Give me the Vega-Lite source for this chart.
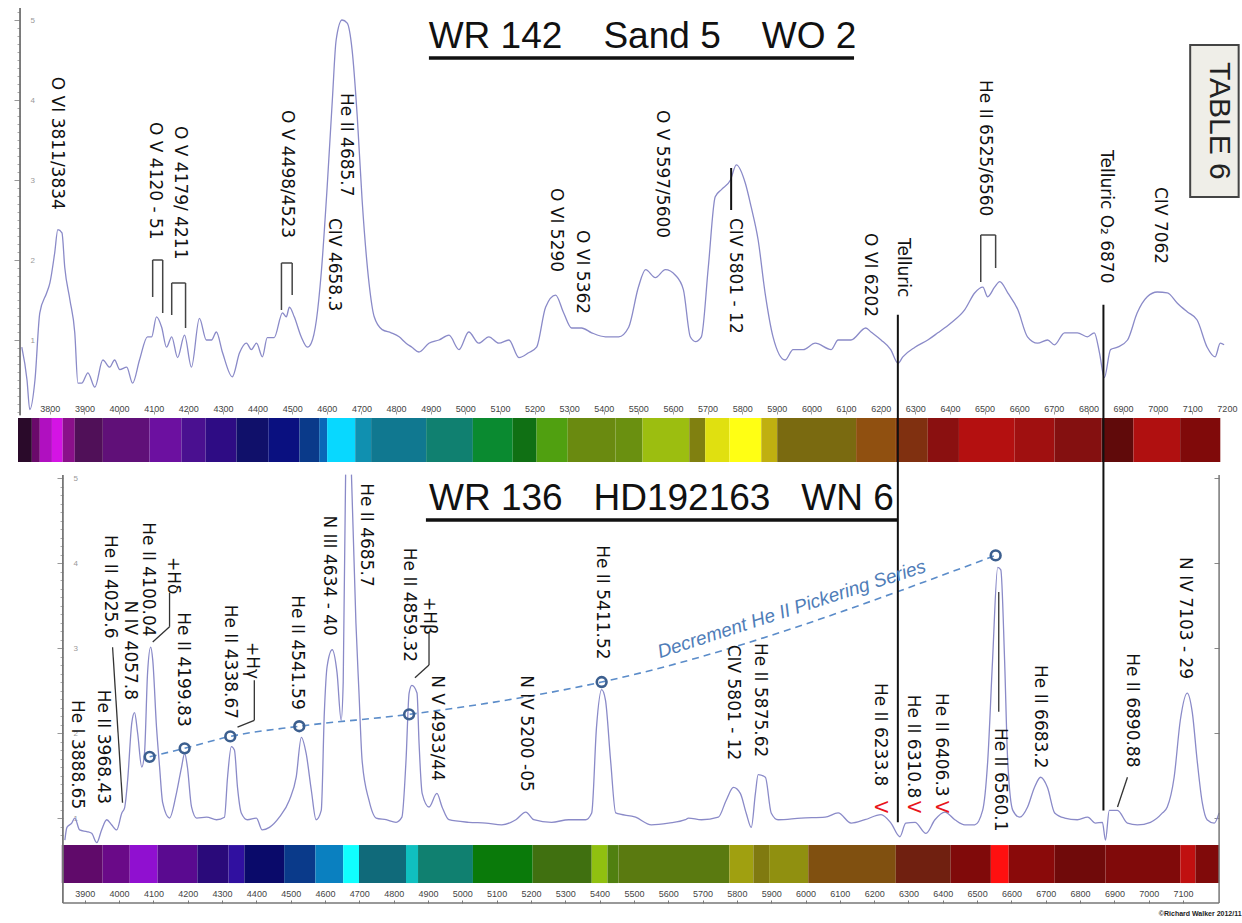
{
  "$schema": "https://vega.github.io/schema/vega-lite/v6.json",
  "width": 1242,
  "height": 923,
  "autosize": {"type": "fit", "contains": "padding"},
  "padding": 0,
  "background": "white",
  "config": {"view": {"stroke": null}, "font": "Liberation Sans"},
  "datasets": {
    "topSpec": [
      {"wl":3719,"v":0.91},{"wl":3734,"v":0.5},{"wl":3742,"v":0.13},{"wl":3757,"v":0.5},{"wl":3771,"v":1.34},{"wl":3791,"v":1.59},{"wl":3800,"v":1.71},{"wl":3814,"v":2.09},{"wl":3823,"v":2.38},{"wl":3835,"v":2.34},{"wl":3843,"v":1.91},{"wl":3858,"v":1.5},{"wl":3872,"v":1.09},{"wl":3881,"v":0.46},{"wl":3892,"v":0.46},{"wl":3910,"v":0.59},{"wl":3930,"v":0.41},{"wl":3953,"v":0.75},{"wl":3973,"v":0.66},{"wl":3987,"v":0.75},{"wl":4002,"v":0.63},{"wl":4022,"v":0.66},{"wl":4039,"v":0.46},{"wl":4059,"v":0.75},{"wl":4082,"v":1.04},{"wl":4094,"v":1.04},{"wl":4108,"v":1.29},{"wl":4123,"v":1.16},{"wl":4137,"v":0.91},{"wl":4152,"v":1.04},{"wl":4169,"v":0.78},{"wl":4189,"v":1.06},{"wl":4209,"v":0.66},{"wl":4232,"v":1.27},{"wl":4252,"v":1.0},{"wl":4267,"v":1.0},{"wl":4281,"v":1.1},{"wl":4299,"v":0.84},{"wl":4327,"v":0.54},{"wl":4348,"v":0.84},{"wl":4368,"v":0.96},{"wl":4382,"v":0.88},{"wl":4397,"v":0.96},{"wl":4414,"v":0.79},{"wl":4428,"v":1.03},{"wl":4448,"v":1.03},{"wl":4472,"v":1.34},{"wl":4483,"v":1.29},{"wl":4492,"v":1.41},{"wl":4506,"v":1.29},{"wl":4526,"v":1.04},{"wl":4544,"v":0.91},{"wl":4555,"v":0.96},{"wl":4570,"v":1.25},{"wl":4584,"v":1.84},{"wl":4601,"v":2.91},{"wl":4616,"v":4.0},{"wl":4627,"v":4.75},{"wl":4644,"v":5.0},{"wl":4659,"v":4.96},{"wl":4673,"v":4.63},{"wl":4688,"v":3.79},{"wl":4702,"v":2.75},{"wl":4722,"v":1.71},{"wl":4737,"v":1.29},{"wl":4760,"v":1.13},{"wl":4786,"v":1.09},{"wl":4809,"v":1.04},{"wl":4829,"v":0.96},{"wl":4846,"v":0.91},{"wl":4866,"v":0.85},{"wl":4895,"v":0.96},{"wl":4924,"v":1.0},{"wl":4953,"v":1.06},{"wl":4982,"v":0.88},{"wl":5010,"v":1.1},{"wl":5039,"v":0.96},{"wl":5068,"v":1.04},{"wl":5097,"v":0.96},{"wl":5126,"v":1.0},{"wl":5155,"v":0.78},{"wl":5183,"v":0.84},{"wl":5206,"v":0.91},{"wl":5232,"v":1.41},{"wl":5261,"v":1.56},{"wl":5284,"v":1.34},{"wl":5307,"v":1.15},{"wl":5336,"v":1.15},{"wl":5365,"v":1.09},{"wl":5405,"v":1.04},{"wl":5443,"v":1.04},{"wl":5472,"v":1.16},{"wl":5500,"v":1.66},{"wl":5521,"v":1.88},{"wl":5549,"v":1.78},{"wl":5578,"v":1.88},{"wl":5607,"v":1.81},{"wl":5630,"v":1.63},{"wl":5650,"v":1.04},{"wl":5665,"v":0.98},{"wl":5682,"v":1.04},{"wl":5702,"v":1.91},{"wl":5722,"v":2.79},{"wl":5740,"v":2.88},{"wl":5766,"v":3.0},{"wl":5783,"v":3.19},{"wl":5809,"v":2.96},{"wl":5826,"v":2.66},{"wl":5846,"v":2.25},{"wl":5866,"v":1.59},{"wl":5889,"v":1.04},{"wl":5924,"v":0.75},{"wl":5947,"v":0.88},{"wl":5976,"v":0.88},{"wl":6011,"v":0.96},{"wl":6057,"v":0.88},{"wl":6077,"v":1.0},{"wl":6114,"v":1.0},{"wl":6157,"v":1.15},{"wl":6172,"v":1.1},{"wl":6201,"v":1.0},{"wl":6229,"v":0.88},{"wl":6250,"v":0.71},{"wl":6264,"v":0.79},{"wl":6299,"v":0.91},{"wl":6336,"v":1.0},{"wl":6365,"v":1.09},{"wl":6402,"v":1.21},{"wl":6443,"v":1.38},{"wl":6472,"v":1.59},{"wl":6495,"v":1.66},{"wl":6509,"v":1.54},{"wl":6529,"v":1.66},{"wl":6544,"v":1.73},{"wl":6567,"v":1.59},{"wl":6596,"v":1.38},{"wl":6624,"v":1.04},{"wl":6653,"v":0.96},{"wl":6682,"v":1.0},{"wl":6702,"v":0.94},{"wl":6731,"v":1.09},{"wl":6768,"v":1.09},{"wl":6797,"v":1.04},{"wl":6817,"v":1.09},{"wl":6832,"v":0.84},{"wl":6846,"v":0.53},{"wl":6864,"v":0.88},{"wl":6884,"v":0.91},{"wl":6913,"v":1.0},{"wl":6941,"v":1.34},{"wl":6970,"v":1.54},{"wl":6999,"v":1.6},{"wl":7028,"v":1.59},{"wl":7057,"v":1.46},{"wl":7086,"v":1.35},{"wl":7114,"v":1.25},{"wl":7143,"v":0.91},{"wl":7166,"v":0.79},{"wl":7181,"v":0.96},{"wl":7192,"v":0.94}
    ],
    "botSpec": [
      {"wl":3842,"v":0.74,"seg":"a"},{"wl":3848,"v":0.89,"seg":"a"},{"wl":3862,"v":0.94,"seg":"a"},{"wl":3871,"v":1.0,"seg":"a"},{"wl":3885,"v":0.86,"seg":"a"},{"wl":3906,"v":0.84,"seg":"a"},{"wl":3920,"v":0.82,"seg":"a"},{"wl":3935,"v":0.71,"seg":"a"},{"wl":3949,"v":0.86,"seg":"a"},{"wl":3964,"v":0.98,"seg":"a"},{"wl":3978,"v":0.92,"seg":"a"},{"wl":3993,"v":0.86,"seg":"a"},{"wl":4008,"v":1.06,"seg":"a"},{"wl":4016,"v":1.12,"seg":"a"},{"wl":4025,"v":1.45,"seg":"a"},{"wl":4037,"v":2.12,"seg":"a"},{"wl":4045,"v":2.24,"seg":"a"},{"wl":4054,"v":2.0,"seg":"a"},{"wl":4066,"v":1.6,"seg":"a"},{"wl":4074,"v":1.76,"seg":"a"},{"wl":4083,"v":2.71,"seg":"a"},{"wl":4092,"v":3.01,"seg":"a"},{"wl":4098,"v":2.86,"seg":"a"},{"wl":4109,"v":2.07,"seg":"a"},{"wl":4118,"v":1.6,"seg":"a"},{"wl":4127,"v":1.18,"seg":"a"},{"wl":4147,"v":1.0,"seg":"a"},{"wl":4167,"v":1.29,"seg":"a"},{"wl":4182,"v":1.6,"seg":"a"},{"wl":4191,"v":1.76,"seg":"a"},{"wl":4199,"v":1.6,"seg":"a"},{"wl":4211,"v":1.13,"seg":"a"},{"wl":4226,"v":1.0,"seg":"a"},{"wl":4255,"v":1.01,"seg":"a"},{"wl":4284,"v":0.98,"seg":"a"},{"wl":4307,"v":1.01,"seg":"a"},{"wl":4316,"v":1.48,"seg":"a"},{"wl":4327,"v":1.84,"seg":"a"},{"wl":4336,"v":1.8,"seg":"a"},{"wl":4345,"v":1.36,"seg":"a"},{"wl":4356,"v":1.06,"seg":"a"},{"wl":4374,"v":0.98,"seg":"a"},{"wl":4400,"v":1.0,"seg":"a"},{"wl":4417,"v":0.86,"seg":"a"},{"wl":4438,"v":0.89,"seg":"a"},{"wl":4467,"v":1.01,"seg":"a"},{"wl":4496,"v":1.21,"seg":"a"},{"wl":4516,"v":1.48,"seg":"a"},{"wl":4531,"v":1.95,"seg":"a"},{"wl":4545,"v":1.76,"seg":"a"},{"wl":4560,"v":1.33,"seg":"a"},{"wl":4574,"v":0.98,"seg":"a"},{"wl":4589,"v":1.09,"seg":"a"},{"wl":4598,"v":2.24,"seg":"a"},{"wl":4606,"v":2.78,"seg":"a"},{"wl":4621,"v":2.98,"seg":"a"},{"wl":4635,"v":2.71,"seg":"a"},{"wl":4647,"v":2.15,"seg":"a"},{"wl":4653,"v":2.6,"seg":"a"},{"wl":4660,"v":5.04,"seg":"a"},
      {"wl":4677,"v":5.04,"seg":"b"},{"wl":4690,"v":3.3,"seg":"b"},{"wl":4699,"v":2.47,"seg":"b"},{"wl":4708,"v":1.68,"seg":"b"},{"wl":4728,"v":1.21,"seg":"b"},{"wl":4749,"v":1.0,"seg":"b"},{"wl":4778,"v":0.98,"seg":"b"},{"wl":4807,"v":0.95,"seg":"b"},{"wl":4824,"v":1.01,"seg":"b"},{"wl":4836,"v":1.68,"seg":"b"},{"wl":4845,"v":2.47,"seg":"b"},{"wl":4853,"v":2.56,"seg":"b"},{"wl":4868,"v":2.47,"seg":"b"},{"wl":4874,"v":1.88,"seg":"b"},{"wl":4883,"v":1.29,"seg":"b"},{"wl":4903,"v":1.13,"seg":"b"},{"wl":4926,"v":1.29,"seg":"b"},{"wl":4941,"v":1.13,"seg":"b"},{"wl":4961,"v":0.98,"seg":"b"},{"wl":5019,"v":0.95,"seg":"b"},{"wl":5069,"v":0.94,"seg":"b"},{"wl":5115,"v":0.92,"seg":"b"},{"wl":5156,"v":0.98,"seg":"b"},{"wl":5185,"v":1.07,"seg":"b"},{"wl":5208,"v":0.98,"seg":"b"},{"wl":5260,"v":0.95,"seg":"b"},{"wl":5310,"v":0.98,"seg":"b"},{"wl":5359,"v":0.98,"seg":"b"},{"wl":5377,"v":1.06,"seg":"b"},{"wl":5391,"v":2.07,"seg":"b"},{"wl":5406,"v":2.51,"seg":"b"},{"wl":5417,"v":2.39,"seg":"b"},{"wl":5432,"v":1.68,"seg":"b"},{"wl":5447,"v":1.06,"seg":"b"},{"wl":5505,"v":1.01,"seg":"b"},{"wl":5551,"v":0.92,"seg":"b"},{"wl":5601,"v":0.94,"seg":"b"},{"wl":5650,"v":0.98,"seg":"b"},{"wl":5659,"v":1.0,"seg":"b"},{"wl":5697,"v":0.98,"seg":"b"},{"wl":5746,"v":1.01,"seg":"b"},{"wl":5769,"v":1.21,"seg":"b"},{"wl":5790,"v":1.36,"seg":"b"},{"wl":5810,"v":1.29,"seg":"b"},{"wl":5827,"v":1.06,"seg":"b"},{"wl":5842,"v":0.89,"seg":"b"},{"wl":5854,"v":1.29,"seg":"b"},{"wl":5862,"v":1.51,"seg":"b"},{"wl":5883,"v":1.48,"seg":"b"},{"wl":5900,"v":1.06,"seg":"b"},{"wl":5920,"v":0.98,"seg":"b"},{"wl":5987,"v":1.0,"seg":"b"},{"wl":6057,"v":1.01,"seg":"b"},{"wl":6095,"v":1.06,"seg":"b"},{"wl":6133,"v":0.94,"seg":"b"},{"wl":6173,"v":0.98,"seg":"b"},{"wl":6220,"v":1.04,"seg":"b"},{"wl":6249,"v":0.94,"seg":"b"},{"wl":6275,"v":0.78,"seg":"b"},{"wl":6292,"v":0.94,"seg":"b"},{"wl":6319,"v":0.95,"seg":"b"},{"wl":6351,"v":0.82,"seg":"b"},{"wl":6377,"v":0.98,"seg":"b"},{"wl":6406,"v":1.07,"seg":"b"},{"wl":6435,"v":0.98,"seg":"b"},{"wl":6464,"v":0.92,"seg":"b"},{"wl":6493,"v":0.92,"seg":"b"},{"wl":6516,"v":1.09,"seg":"b"},{"wl":6531,"v":1.68,"seg":"b"},{"wl":6545,"v":2.86,"seg":"b"},{"wl":6560,"v":3.95,"seg":"b"},{"wl":6569,"v":3.92,"seg":"b"},{"wl":6580,"v":2.86,"seg":"b"},{"wl":6589,"v":1.68,"seg":"b"},{"wl":6604,"v":1.09,"seg":"b"},{"wl":6624,"v":1.01,"seg":"b"},{"wl":6647,"v":1.13,"seg":"b"},{"wl":6667,"v":1.36,"seg":"b"},{"wl":6685,"v":1.48,"seg":"b"},{"wl":6705,"v":1.36,"seg":"b"},{"wl":6726,"v":1.06,"seg":"b"},{"wl":6755,"v":1.0,"seg":"b"},{"wl":6792,"v":0.98,"seg":"b"},{"wl":6822,"v":1.01,"seg":"b"},{"wl":6845,"v":0.94,"seg":"b"},{"wl":6865,"v":0.95,"seg":"b"},{"wl":6874,"v":0.74,"seg":"b"},{"wl":6885,"v":1.09,"seg":"b"},{"wl":6909,"v":1.09,"seg":"b"},{"wl":6938,"v":0.94,"seg":"b"},{"wl":6967,"v":0.92,"seg":"b"},{"wl":7005,"v":0.95,"seg":"b"},{"wl":7040,"v":1.06,"seg":"b"},{"wl":7054,"v":1.13,"seg":"b"},{"wl":7074,"v":1.48,"seg":"b"},{"wl":7092,"v":2.15,"seg":"b"},{"wl":7112,"v":2.47,"seg":"b"},{"wl":7127,"v":2.24,"seg":"b"},{"wl":7141,"v":1.68,"seg":"b"},{"wl":7156,"v":1.18,"seg":"b"},{"wl":7170,"v":0.98,"seg":"b"},{"wl":7191,"v":0.94,"seg":"b"},{"wl":7205,"v":1.06,"seg":"b"}
    ],
    "topBar": [
      {"wl":3708,"wl2":3748,"rgb":"#2a0a2a"},{"wl":3748,"wl2":3771,"rgb":"#6a0a6a"},{"wl":3771,"wl2":3806,"rgb":"#b010c0"},{"wl":3806,"wl2":3837,"rgb":"#d414e4"},{"wl":3837,"wl2":3872,"rgb":"#8a108a"},{"wl":3872,"wl2":3953,"rgb":"#501058"},{"wl":3953,"wl2":4088,"rgb":"#601078"},{"wl":4088,"wl2":4180,"rgb":"#6c10a0"},{"wl":4180,"wl2":4250,"rgb":"#4a1090"},{"wl":4250,"wl2":4339,"rgb":"#2e0c84"},{"wl":4339,"wl2":4431,"rgb":"#10106a"},{"wl":4431,"wl2":4521,"rgb":"#0a1080"},{"wl":4521,"wl2":4578,"rgb":"#0a3a8a"},{"wl":4578,"wl2":4601,"rgb":"#0a68b8"},{"wl":4601,"wl2":4682,"rgb":"#08d8ff"},{"wl":4682,"wl2":4728,"rgb":"#1090b0"},{"wl":4728,"wl2":4887,"rgb":"#107890"},{"wl":4887,"wl2":5022,"rgb":"#108070"},{"wl":5022,"wl2":5137,"rgb":"#0a8a30"},{"wl":5137,"wl2":5206,"rgb":"#107014"},{"wl":5206,"wl2":5296,"rgb":"#50a010"},{"wl":5296,"wl2":5434,"rgb":"#6a8a10"},{"wl":5434,"wl2":5512,"rgb":"#6a9010"},{"wl":5512,"wl2":5647,"rgb":"#9cbe10"},{"wl":5647,"wl2":5693,"rgb":"#808010"},{"wl":5693,"wl2":5763,"rgb":"#e0e010"},{"wl":5763,"wl2":5855,"rgb":"#ffff14"},{"wl":5855,"wl2":5901,"rgb":"#c0b010"},{"wl":5901,"wl2":6129,"rgb":"#7a6a10"},{"wl":6129,"wl2":6244,"rgb":"#905010"},{"wl":6244,"wl2":6336,"rgb":"#803010"},{"wl":6336,"wl2":6426,"rgb":"#8a1010"},{"wl":6426,"wl2":6587,"rgb":"#b41010"},{"wl":6587,"wl2":6702,"rgb":"#a01010"},{"wl":6702,"wl2":6838,"rgb":"#841010"},{"wl":6838,"wl2":6930,"rgb":"#600a0a"},{"wl":6930,"wl2":7065,"rgb":"#b01010"},{"wl":7065,"wl2":7181,"rgb":"#800a0a"}
    ],
    "botBar": [
      {"wl":3833,"wl2":3952,"rgb":"#600a6a"},{"wl":3952,"wl2":4031,"rgb":"#6a0a88"},{"wl":4031,"wl2":4112,"rgb":"#9010d0"},{"wl":4112,"wl2":4228,"rgb":"#5a0a90"},{"wl":4228,"wl2":4319,"rgb":"#2a0a7a"},{"wl":4319,"wl2":4365,"rgb":"#3010a0"},{"wl":4365,"wl2":4481,"rgb":"#0a0a6a"},{"wl":4481,"wl2":4572,"rgb":"#0a3a8a"},{"wl":4572,"wl2":4653,"rgb":"#0a80c0"},{"wl":4653,"wl2":4699,"rgb":"#10ffff"},{"wl":4699,"wl2":4836,"rgb":"#106a7a"},{"wl":4836,"wl2":4871,"rgb":"#10c0c0"},{"wl":4871,"wl2":5031,"rgb":"#108070"},{"wl":5031,"wl2":5205,"rgb":"#0a7a0a"},{"wl":5205,"wl2":5377,"rgb":"#407010"},{"wl":5377,"wl2":5423,"rgb":"#90c010"},{"wl":5423,"wl2":5455,"rgb":"#508010"},{"wl":5455,"wl2":5778,"rgb":"#5a7a10"},{"wl":5778,"wl2":5848,"rgb":"#a0a010"},{"wl":5848,"wl2":5894,"rgb":"#807a10"},{"wl":5894,"wl2":6008,"rgb":"#909010"},{"wl":6008,"wl2":6263,"rgb":"#805010"},{"wl":6263,"wl2":6423,"rgb":"#702010"},{"wl":6423,"wl2":6540,"rgb":"#800a0a"},{"wl":6540,"wl2":6592,"rgb":"#ff1010"},{"wl":6592,"wl2":6726,"rgb":"#8a0a0a"},{"wl":6726,"wl2":6874,"rgb":"#700a0a"},{"wl":6874,"wl2":7092,"rgb":"#800a0a"},{"wl":7092,"wl2":7136,"rgb":"#c01010"},{"wl":7136,"wl2":7205,"rgb":"#800a0a"}
    ],
    "topLabels": [
      {"wl":3820,"v":4.29,"label":"O VI 3811/3834"},
      {"wl":4103,"v":3.725,"label":"O V 4120 - 51"},
      {"wl":4175,"v":3.675,"label":"O V 4179/ 4211"},
      {"wl":4486,"v":3.875,"label":"O V 4498/4523"},
      {"wl":4656,"v":4.0875,"label":"He II 4685.7"},
      {"wl":4621,"v":2.525,"label":"CIV 4658.3"},
      {"wl":5261,"v":2.9,"label":"O VI 5290"},
      {"wl":5336,"v":2.375,"label":"O VI 5362"},
      {"wl":5567,"v":3.875,"label":"O V 5597/5600"},
      {"wl":5780,"v":2.525,"label":"CIV 5801 - 12"},
      {"wl":6169,"v":2.3375,"label":"O VI 6202"},
      {"wl":6264,"v":2.275,"label":"Telluric"},
      {"wl":6500,"v":4.25,"label":"He II 6525/6560"},
      {"wl":6852,"v":3.375,"label":"Telluric O₂  6870"},
      {"wl":7008,"v":2.9125,"label":"CIV 7062"}
    ],
    "botLabels": [
      {"wl":3877,"v":2.39,"label":"He I 3888.65"},
      {"wl":3952,"v":2.51,"label":"He II 3968.43"},
      {"wl":3973,"v":4.33,"label":"He II 4025.6"},
      {"wl":4031,"v":3.56,"label":"N IV 4057.8"},
      {"wl":4083,"v":4.48,"label":"He II 4100.04"},
      {"wl":4156,"v":4.07,"label":"+Hδ"},
      {"wl":4185,"v":3.42,"label":"He II 4199.83"},
      {"wl":4322,"v":3.51,"label":"He II 4338.67"},
      {"wl":4388,"v":3.07,"label":"+Hγ"},
      {"wl":4519,"v":3.62,"label":"He II 4541.59"},
      {"wl":4612,"v":4.56,"label":"N III 4634 - 40"},
      {"wl":4720,"v":4.94,"label":"He II 4685.7"},
      {"wl":4845,"v":4.18,"label":"He II 4859.32"},
      {"wl":4903,"v":3.6,"label":"+Hβ"},
      {"wl":4926,"v":2.68,"label":"N V 4933/44"},
      {"wl":5185,"v":2.68,"label":"N IV 5200 -05"},
      {"wl":5406,"v":4.21,"label":"He II 5411.52"},
      {"wl":5790,"v":3.04,"label":"CIV  5801 - 12"},
      {"wl":5868,"v":3.06,"label":"He II 5875.62"},
      {"wl":6217,"v":2.59,"label":"He II  6233.8"},
      {"wl":6313,"v":2.45,"label":"He II 6310.8"},
      {"wl":6394,"v":2.47,"label":"He II 6406.3"},
      {"wl":6566,"v":2.06,"label":"He II  6560.1"},
      {"wl":6682,"v":2.8,"label":"He II 6683.2"},
      {"wl":6952,"v":2.94,"label":"He II 6890.88"},
      {"wl":7106,"v":4.07,"label":"N IV 7103 - 29"}
    ],
    "redV": [
      {"wl":6217,"v":1.13,"label":"V"},
      {"wl":6313,"v":1.13,"label":"V"},
      {"wl":6394,"v":1.13,"label":"V"}
    ],
    "topSegs": [
      {"wl":4097,"v":1.5375,"wl2":4097,"v2":2.0,"kind":"br"},
      {"wl":4097,"v":2.0,"wl2":4126,"v2":2.0,"kind":"br"},
      {"wl":4126,"v":2.0,"wl2":4126,"v2":1.3375,"kind":"br"},
      {"wl":4152,"v":1.3125,"wl2":4152,"v2":1.7125,"kind":"br"},
      {"wl":4152,"v":1.7125,"wl2":4192,"v2":1.7125,"kind":"br"},
      {"wl":4192,"v":1.7125,"wl2":4192,"v2":1.15,"kind":"br"},
      {"wl":4469,"v":1.375,"wl2":4469,"v2":1.9625,"kind":"br"},
      {"wl":4469,"v":1.9625,"wl2":4500,"v2":1.9625,"kind":"br"},
      {"wl":4500,"v":1.9625,"wl2":4500,"v2":1.5625,"kind":"br"},
      {"wl":6489,"v":1.725,"wl2":6489,"v2":2.3125,"kind":"br"},
      {"wl":6489,"v":2.3125,"wl2":6532,"v2":2.3125,"kind":"br"},
      {"wl":6532,"v":2.3125,"wl2":6532,"v2":1.9,"kind":"br"},
      {"wl":5768,"v":3.15,"wl2":5768,"v2":2.625,"kind":"lead"},
      {"wl":4895,"v":4.525,"wl2":6123,"v2":4.525,"kind":"ul"}
    ],
    "topAxisLine": [{"wl":3714,"v":5.15,"v2":0.06}],
    "botSegs": [
      {"wl":6269,"v":6.92,"wl2":6269,"v2":0.95,"kind":"tel"},
      {"wl":6868,"v":7.04,"wl2":6868,"v2":1.09,"kind":"tel"},
      {"wl":4894,"v":4.506,"wl2":6269,"v2":4.506,"kind":"ul"},
      {"wl":3981,"v":3.01,"wl2":4010,"v2":1.18,"kind":"lead"},
      {"wl":4147,"v":3.65,"wl2":4147,"v2":3.25,"kind":"lead"},
      {"wl":4147,"v":3.25,"wl2":4098,"v2":3.07,"kind":"lead"},
      {"wl":4394,"v":2.62,"wl2":4394,"v2":2.15,"kind":"lead"},
      {"wl":4394,"v":2.15,"wl2":4345,"v2":2.07,"kind":"lead"},
      {"wl":4903,"v":3.18,"wl2":4903,"v2":2.8,"kind":"lead"},
      {"wl":4903,"v":2.8,"wl2":4862,"v2":2.65,"kind":"lead"},
      {"wl":6563,"v":3.66,"wl2":6563,"v2":2.25,"kind":"lead"},
      {"wl":6938,"v":1.48,"wl2":6909,"v2":1.13,"kind":"lead"},
      {"wl":3836,"v":0.0,"wl2":7205,"v2":0.0,"kind":"ax"},
      {"wl":7205,"v":0.682,"wl2":7205,"v2":0.0,"kind":"ax"}
    ],
    "leftAxisB": [{"wl":3836,"v":5.035,"v2":0.0}],
    "pick": [
      {"wl":4089,"v":1.72},{"wl":4191,"v":1.82},{"wl":4324,"v":1.96},{"wl":4525,"v":2.08},{"wl":4845,"v":2.22},{"wl":5406,"v":2.6},{"wl":6554,"v":4.09}
    ],
    "titleTop": [{"wl":5512,"v":4.65,"label":"WR 142\u00a0\u00a0\u00a0\u00a0Sand 5\u00a0\u00a0\u00a0\u00a0WO 2"}],
    "titleBot": [{"wl":5580,"v":4.624,"label":"WR 136\u00a0\u00a0\u00a0HD192163\u00a0\u00a0\u00a0WN 6"}],
    "decrement": [{"wl":5965,"v":3.39,"label":"Decrement He II Pickering Series"}],
    "note": [{"wl":7150,"v":-0.129,"label":"©Richard Walker 2012/11"}],
    "box": [{"wl":7094,"wl2":7234,"v":4.6875,"v2":2.7875}],
    "boxText": [{"wl":7178,"v":3.74,"label":"TABLE 6"}],
    "rightAxis": [{"wl":7205,"v":5.035,"v2":0.682}]
  },
  "resolve": {"scale": {"x": "independent", "y": "independent"}, "axis": {"x": "independent", "y": "independent"}},
  "layer": [
    {
      "layer": [
        {"data": {"name": "topBar"}, "mark": {"type": "rect"},
          "encoding": {
            "x": {"field": "wl", "type": "quantitative", "scale": {"domain": [3656, 7235], "nice": false, "zero": false}, "axis": null},
            "x2": {"field": "wl2"},
            "y": {"datum": 0.025, "type": "quantitative", "scale": {"domain": [-6.2875, 5.25], "nice": false, "zero": false}, "axis": null},
            "y2": {"datum": -0.525},
            "fill": {"field": "rgb", "type": "nominal", "scale": null}}},
        {"data": {"name": "topSpec"}, "mark": {"type": "line", "color": "#8a8ac8", "strokeWidth": 1.3, "interpolate": "monotone"},
          "encoding": {
            "x": {"field": "wl", "type": "quantitative", "scale": {"domain": [3656, 7235], "nice": false, "zero": false}, "axis": null},
            "y": {"field": "v", "type": "quantitative", "scale": {"domain": [-6.2875, 5.25], "nice": false, "zero": false}, "axis": null}}},
        {"data": {"name": "topSegs"}, "transform": [{"filter": "datum.kind == 'br'"}], "mark": {"type": "rule", "color": "#444", "strokeWidth": 1.5},
          "encoding": {
            "x": {"field": "wl", "type": "quantitative", "scale": {"domain": [3656, 7235], "nice": false, "zero": false}, "axis": null}, "x2": {"field": "wl2"},
            "y": {"field": "v", "type": "quantitative", "scale": {"domain": [-6.2875, 5.25], "nice": false, "zero": false}, "axis": null}, "y2": {"field": "v2"}}},
        {"data": {"name": "topSegs"}, "transform": [{"filter": "datum.kind == 'lead'"}], "mark": {"type": "rule", "color": "#111", "strokeWidth": 2},
          "encoding": {
            "x": {"field": "wl", "type": "quantitative", "scale": {"domain": [3656, 7235], "nice": false, "zero": false}, "axis": null}, "x2": {"field": "wl2"},
            "y": {"field": "v", "type": "quantitative", "scale": {"domain": [-6.2875, 5.25], "nice": false, "zero": false}, "axis": null}, "y2": {"field": "v2"}}},
        {"data": {"name": "topSegs"}, "transform": [{"filter": "datum.kind == 'ul'"}], "mark": {"type": "rule", "color": "#111", "strokeWidth": 3.5},
          "encoding": {
            "x": {"field": "wl", "type": "quantitative", "scale": {"domain": [3656, 7235], "nice": false, "zero": false}, "axis": null}, "x2": {"field": "wl2"},
            "y": {"field": "v", "type": "quantitative", "scale": {"domain": [-6.2875, 5.25], "nice": false, "zero": false}, "axis": null}, "y2": {"field": "v2"}}},
        {"data": {"name": "topLabels"}, "mark": {"type": "text", "angle": 90, "align": "left", "baseline": "middle", "font": "DejaVu Sans", "fontSize": 17, "color": "#111"},
          "encoding": {
            "x": {"field": "wl", "type": "quantitative", "scale": {"domain": [3656, 7235], "nice": false, "zero": false}, "axis": null},
            "y": {"field": "v", "type": "quantitative", "scale": {"domain": [-6.2875, 5.25], "nice": false, "zero": false}, "axis": null},
            "text": {"field": "label"}}},
        {"data": {"name": "titleTop"}, "mark": {"type": "text", "align": "center", "baseline": "alphabetic", "font": "Liberation Sans", "fontSize": 37, "color": "#111"},
          "encoding": {
            "x": {"field": "wl", "type": "quantitative", "scale": {"domain": [3656, 7235], "nice": false, "zero": false}, "axis": null},
            "y": {"field": "v", "type": "quantitative", "scale": {"domain": [-6.2875, 5.25], "nice": false, "zero": false}, "axis": null},
            "text": {"field": "label"}}},
        {"data": {"name": "box"}, "mark": {"type": "rect", "fill": "#efeee8", "stroke": "#444", "strokeWidth": 2},
          "encoding": {
            "x": {"field": "wl", "type": "quantitative", "scale": {"domain": [3656, 7235], "nice": false, "zero": false}, "axis": null}, "x2": {"field": "wl2"},
            "y": {"field": "v", "type": "quantitative", "scale": {"domain": [-6.2875, 5.25], "nice": false, "zero": false}, "axis": null}, "y2": {"field": "v2"}}},
        {"data": {"name": "boxText"}, "mark": {"type": "text", "angle": 90, "align": "center", "baseline": "middle", "font": "Liberation Sans", "fontSize": 30, "color": "#222"},
          "encoding": {
            "x": {"field": "wl", "type": "quantitative", "scale": {"domain": [3656, 7235], "nice": false, "zero": false}, "axis": null},
            "y": {"field": "v", "type": "quantitative", "scale": {"domain": [-6.2875, 5.25], "nice": false, "zero": false}, "axis": null},
            "text": {"field": "label"}}}
      ]
    },
    {
      "layer": [
        {"data": {"name": "botBar"}, "mark": {"type": "rect"},
          "encoding": {
            "x": {"field": "wl", "type": "quantitative", "scale": {"domain": [3653, 7263], "nice": false, "zero": false}, "axis": null},
            "x2": {"field": "wl2"},
            "y": {"datum": 0.682, "type": "quantitative", "scale": {"domain": [-0.235, 10.624], "nice": false, "zero": false}, "axis": null},
            "y2": {"datum": 0.235},
            "fill": {"field": "rgb", "type": "nominal", "scale": null}}},
        {"data": {"name": "botSpec"}, "mark": {"type": "line", "color": "#8a8ac8", "strokeWidth": 1.3, "interpolate": "monotone"},
          "encoding": {
            "x": {"field": "wl", "type": "quantitative", "scale": {"domain": [3653, 7263], "nice": false, "zero": false}, "axis": null},
            "y": {"field": "v", "type": "quantitative", "scale": {"domain": [-0.235, 10.624], "nice": false, "zero": false}, "axis": null},
            "detail": {"field": "seg"}}},
        {"data": {"name": "pick"}, "mark": {"type": "line", "color": "#5b8cc9", "strokeWidth": 1.6, "strokeDash": [7, 5], "interpolate": "monotone"},
          "encoding": {
            "x": {"field": "wl", "type": "quantitative", "scale": {"domain": [3653, 7263], "nice": false, "zero": false}, "axis": null},
            "y": {"field": "v", "type": "quantitative", "scale": {"domain": [-0.235, 10.624], "nice": false, "zero": false}, "axis": null}}},
        {"data": {"name": "pick"}, "mark": {"type": "point", "shape": "circle", "filled": false, "size": 95, "strokeWidth": 2.6, "color": "#3c5f8f", "opacity": 1},
          "encoding": {
            "x": {"field": "wl", "type": "quantitative", "scale": {"domain": [3653, 7263], "nice": false, "zero": false}, "axis": null},
            "y": {"field": "v", "type": "quantitative", "scale": {"domain": [-0.235, 10.624], "nice": false, "zero": false}, "axis": null}}},
        {"data": {"name": "botSegs"}, "transform": [{"filter": "datum.kind == 'tel'"}], "mark": {"type": "rule", "color": "#111", "strokeWidth": 2},
          "encoding": {
            "x": {"field": "wl", "type": "quantitative", "scale": {"domain": [3653, 7263], "nice": false, "zero": false}, "axis": null}, "x2": {"field": "wl2"},
            "y": {"field": "v", "type": "quantitative", "scale": {"domain": [-0.235, 10.624], "nice": false, "zero": false}, "axis": null}, "y2": {"field": "v2"}}},
        {"data": {"name": "botSegs"}, "transform": [{"filter": "datum.kind == 'ul'"}], "mark": {"type": "rule", "color": "#111", "strokeWidth": 3.5},
          "encoding": {
            "x": {"field": "wl", "type": "quantitative", "scale": {"domain": [3653, 7263], "nice": false, "zero": false}, "axis": null}, "x2": {"field": "wl2"},
            "y": {"field": "v", "type": "quantitative", "scale": {"domain": [-0.235, 10.624], "nice": false, "zero": false}, "axis": null}, "y2": {"field": "v2"}}},
        {"data": {"name": "botSegs"}, "transform": [{"filter": "datum.kind == 'lead'"}], "mark": {"type": "rule", "color": "#333", "strokeWidth": 1.3},
          "encoding": {
            "x": {"field": "wl", "type": "quantitative", "scale": {"domain": [3653, 7263], "nice": false, "zero": false}, "axis": null}, "x2": {"field": "wl2"},
            "y": {"field": "v", "type": "quantitative", "scale": {"domain": [-0.235, 10.624], "nice": false, "zero": false}, "axis": null}, "y2": {"field": "v2"}}},
        {"data": {"name": "botSegs"}, "transform": [{"filter": "datum.kind == 'ax'"}], "mark": {"type": "rule", "color": "#777", "strokeWidth": 1.5},
          "encoding": {
            "x": {"field": "wl", "type": "quantitative", "scale": {"domain": [3653, 7263], "nice": false, "zero": false}, "axis": null}, "x2": {"field": "wl2"},
            "y": {"field": "v", "type": "quantitative", "scale": {"domain": [-0.235, 10.624], "nice": false, "zero": false}, "axis": null}, "y2": {"field": "v2"}}},
        {"data": {"name": "botLabels"}, "mark": {"type": "text", "angle": 90, "align": "left", "baseline": "middle", "font": "DejaVu Sans", "fontSize": 17, "color": "#111"},
          "encoding": {
            "x": {"field": "wl", "type": "quantitative", "scale": {"domain": [3653, 7263], "nice": false, "zero": false}, "axis": null},
            "y": {"field": "v", "type": "quantitative", "scale": {"domain": [-0.235, 10.624], "nice": false, "zero": false}, "axis": null},
            "text": {"field": "label"}}},
        {"data": {"name": "redV"}, "mark": {"type": "text", "angle": 90, "align": "center", "baseline": "middle", "font": "DejaVu Sans", "fontSize": 18, "color": "#e8141c"},
          "encoding": {
            "x": {"field": "wl", "type": "quantitative", "scale": {"domain": [3653, 7263], "nice": false, "zero": false}, "axis": null},
            "y": {"field": "v", "type": "quantitative", "scale": {"domain": [-0.235, 10.624], "nice": false, "zero": false}, "axis": null},
            "text": {"field": "label"}}},
        {"data": {"name": "titleBot"}, "mark": {"type": "text", "align": "center", "baseline": "alphabetic", "font": "Liberation Sans", "fontSize": 37, "color": "#111"},
          "encoding": {
            "x": {"field": "wl", "type": "quantitative", "scale": {"domain": [3653, 7263], "nice": false, "zero": false}, "axis": null},
            "y": {"field": "v", "type": "quantitative", "scale": {"domain": [-0.235, 10.624], "nice": false, "zero": false}, "axis": null},
            "text": {"field": "label"}}},
        {"data": {"name": "decrement"}, "mark": {"type": "text", "align": "center", "baseline": "alphabetic", "angle": 342, "font": "Liberation Sans", "fontStyle": "italic", "fontSize": 19, "color": "#4f7db8"},
          "encoding": {
            "x": {"field": "wl", "type": "quantitative", "scale": {"domain": [3653, 7263], "nice": false, "zero": false}, "axis": null},
            "y": {"field": "v", "type": "quantitative", "scale": {"domain": [-0.235, 10.624], "nice": false, "zero": false}, "axis": null},
            "text": {"field": "label"}}},
        {"data": {"name": "note"}, "mark": {"type": "text", "align": "center", "baseline": "middle", "font": "Liberation Sans", "fontWeight": "bold", "fontSize": 7, "color": "#222"},
          "encoding": {
            "x": {"field": "wl", "type": "quantitative", "scale": {"domain": [3653, 7263], "nice": false, "zero": false}, "axis": null},
            "y": {"field": "v", "type": "quantitative", "scale": {"domain": [-0.235, 10.624], "nice": false, "zero": false}, "axis": null},
            "text": {"field": "label"}}}
      ]
    },
    {
      "data": {"name": "topAxisLine"},
      "mark": {"type": "rule", "color": "#777", "strokeWidth": 1.5},
      "encoding": {
        "x": {"field": "wl", "type": "quantitative", "scale": {"domain": [3656, 7235], "nice": false, "zero": false},
          "axis": {"orient": "bottom", "offset": -521, "values": [3800,3900,4000,4100,4200,4300,4400,4500,4600,4700,4800,4900,5000,5100,5200,5300,5400,5500,5600,5700,5800,5900,6000,6100,6200,6300,6400,6500,6600,6700,6800,6900,7000,7100,7200],
            "format": "d", "title": null, "domain": false, "ticks": false, "grid": false, "labelFontSize": 9, "labelColor": "#444", "labelPadding": 2, "labelFlush": false, "labelOverlap": false}},
        "y": {"field": "v", "type": "quantitative", "scale": {"domain": [-6.2875, 5.25], "nice": false, "zero": false},
          "axis": {"orient": "left", "offset": -20, "values": [1, 2, 3, 4, 5], "format": "d", "title": null, "domain": false, "grid": false,
            "tickColor": "#999", "tickSize": 6, "labelAlign": "left", "labelPadding": -16, "labelFontSize": 8, "labelColor": "#999", "labelOverlap": false}},
        "y2": {"field": "v2"}
      }
    },
    {
      "data": {"name": "topAxisLine"},
      "mark": {"type": "rule", "color": "#777", "strokeWidth": 1.5},
      "encoding": {
        "x": {"field": "wl", "type": "quantitative", "scale": {"domain": [3656, 7235], "nice": false, "zero": false},
          "axis": {"orient": "bottom", "offset": -512, "values": [3800,3900,4000,4100,4200,4300,4400,4500,4600,4700,4800,4900,5000,5100,5200,5300,5400,5500,5600,5700,5800,5900,6000,6100,6200,6300,6400,6500,6600,6700,6800,6900,7000,7100],
            "labels": false, "domain": false, "grid": false, "title": null, "tickColor": "#999", "tickSize": 3}},
        "y": {"field": "v", "type": "quantitative", "scale": {"domain": [-6.2875, 5.25], "nice": false, "zero": false},
          "axis": {"orient": "left", "offset": -20, "values": [0.1,0.2,0.3,0.4,0.5,0.6,0.7,0.8,0.9,1.1,1.2,1.3,1.4,1.5,1.6,1.7,1.8,1.9,2.1,2.2,2.3,2.4,2.5,2.6,2.7,2.8,2.9,3.1,3.2,3.3,3.4,3.5,3.6,3.7,3.8,3.9,4.1,4.2,4.3,4.4,4.5,4.6,4.7,4.8,4.9,5.1],
            "labels": false, "domain": false, "grid": false, "title": null, "tickColor": "#aaa", "tickSize": 3}},
        "y2": {"field": "v2"}
      }
    },
    {
      "data": {"name": "leftAxisB"},
      "mark": {"type": "rule", "color": "#777", "strokeWidth": 1.5},
      "encoding": {
        "x": {"field": "wl", "type": "quantitative", "scale": {"domain": [3653, 7263], "nice": false, "zero": false},
          "axis": {"orient": "bottom", "offset": -38, "values": [3900,4000,4100,4200,4300,4400,4500,4600,4700,4800,4900,5000,5100,5200,5300,5400,5500,5600,5700,5800,5900,6000,6100,6200,6300,6400,6500,6600,6700,6800,6900,7000,7100],
            "format": "d", "title": null, "domain": false, "ticks": false, "grid": false, "labelFontSize": 9, "labelColor": "#444", "labelPadding": 4, "labelFlush": false, "labelOverlap": false}},
        "y": {"field": "v", "type": "quantitative", "scale": {"domain": [-0.235, 10.624], "nice": false, "zero": false},
          "axis": {"orient": "left", "offset": -63, "values": [1, 2, 3, 4, 5], "format": "d", "title": null, "domain": false, "grid": false,
            "tickColor": "#999", "tickSize": 6, "labelAlign": "left", "labelPadding": -16, "labelFontSize": 8, "labelColor": "#999", "labelOverlap": false}},
        "y2": {"field": "v2"}
      }
    },
    {
      "data": {"name": "leftAxisB"},
      "mark": {"type": "rule", "color": "#777", "strokeWidth": 1.5},
      "encoding": {
        "x": {"field": "wl", "type": "quantitative", "scale": {"domain": [3653, 7263], "nice": false, "zero": false}, "axis": null},
        "y": {"field": "v", "type": "quantitative", "scale": {"domain": [-0.235, 10.624], "nice": false, "zero": false},
          "axis": {"orient": "left", "offset": -63, "values": [0.8,0.9,1.1,1.2,1.3,1.4,1.5,1.6,1.7,1.8,1.9,2.1,2.2,2.3,2.4,2.5,2.6,2.7,2.8,2.9,3.1,3.2,3.3,3.4,3.5,3.6,3.7,3.8,3.9,4.1,4.2,4.3,4.4,4.5,4.6,4.7,4.8,4.9],
            "labels": false, "domain": false, "grid": false, "title": null, "tickColor": "#aaa", "tickSize": 3}},
        "y2": {"field": "v2"}
      }
    },
    {
      "data": {"name": "rightAxis"},
      "mark": {"type": "rule", "color": "#777", "strokeWidth": 1.5},
      "encoding": {
        "x": {"field": "wl", "type": "quantitative", "scale": {"domain": [3653, 7263], "nice": false, "zero": false},
          "axis": {"orient": "bottom", "offset": -23, "values": [3900,4000,4100,4200,4300,4400,4500,4600,4700,4800,4900,5000,5100,5200,5300,5400,5500,5600,5700,5800,5900,6000,6100,6200,6300,6400,6500,6600,6700,6800,6900,7000,7100],
            "labels": false, "domain": false, "grid": false, "title": null, "tickColor": "#777", "tickSize": 3}},
        "y": {"field": "v", "type": "quantitative", "scale": {"domain": [-0.235, 10.624], "nice": false, "zero": false},
          "axis": {"orient": "right", "offset": -25, "values": [1, 2, 3, 4, 5], "labels": false, "domain": false, "grid": false, "title": null, "tickColor": "#888", "tickSize": 5}},
        "y2": {"field": "v2"}
      }
    }
  ]
}
